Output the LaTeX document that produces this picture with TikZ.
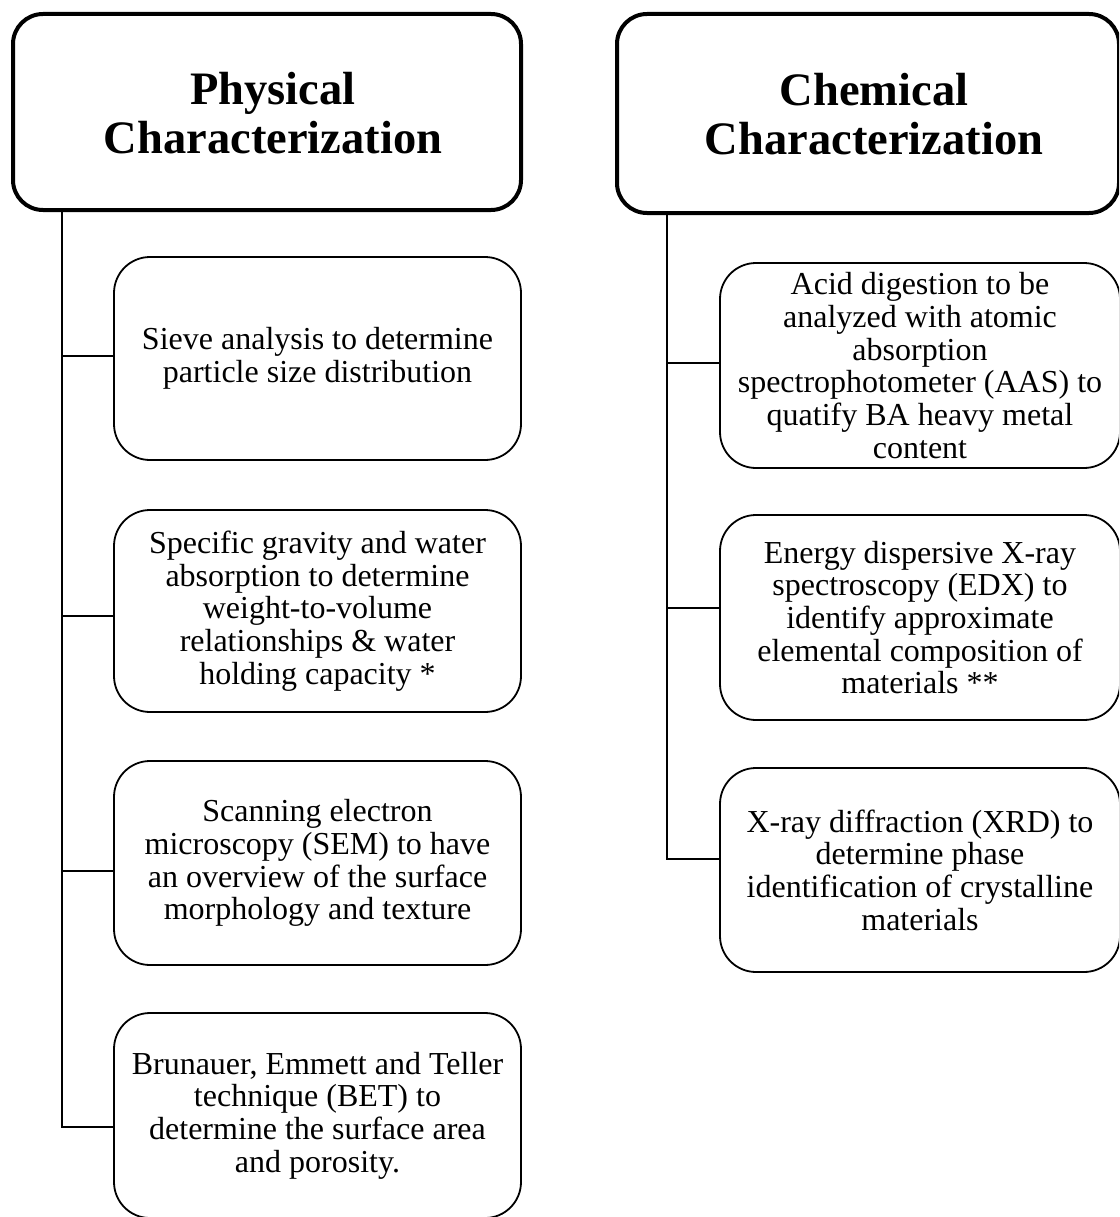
\documentclass[tikz,border=0pt]{standalone}
\usepackage{fontspec}
\setmainfont{Liberation Serif}
\begin{document}
\begin{tikzpicture}[x=1pt,y=-1pt,
  hdr/.style={draw=black, line width=4pt, rounded corners=30pt, fill=white,
    inner sep=0pt},
  hdrtext/.style={inner sep=0pt, align=center, font=\bfseries\fontsize{46.5}{49}\selectfont, xshift=6pt, yshift=-1pt},
  itembox/.style={draw=black, line width=1.8pt, rounded corners=36pt, fill=white,
    inner sep=0pt, align=center, font=\fontsize{32}{32.7}\selectfont},
  lconn/.style={draw=black, line width=1.3pt},
  rconn/.style={draw=black, line width=2pt}]
\useasboundingbox (0,0) rectangle (1119,1217);
\clip (0,0) rectangle (1119,1217);

% headers
\node[hdr, minimum width=508pt, minimum height=196pt,
  label={[hdrtext]center:Physical\\Characterization}] (hL) at (267,112) {};
\node[hdr, minimum width=502pt, minimum height=199pt,
  label={[hdrtext]center:Chemical\\Characterization}] (hR) at (868,113.5) {};

% left items
\node[itembox, minimum width=407pt, minimum height=203pt] (sieve) at (317.5,358.5) {Sieve analysis to determine\\particle size distribution};
\node[itembox, minimum width=407pt, minimum height=202pt] (sg) at (317.5,611) {Specific gravity and water\\absorption to determine\\weight-to-volume\\relationships \& water\\holding capacity *};
\node[itembox, minimum width=407pt, minimum height=204pt] (sem) at (317.5,863) {Scanning electron\\microscopy (SEM) to have\\an overview of the surface\\morphology and texture};
\node[itembox, minimum width=407pt, minimum height=205pt] (bet) at (317.5,1115.5) {Brunauer, Emmett and Teller\\technique (BET) to\\determine the surface area\\and porosity.};

% right items
\node[itembox, minimum width=400pt, minimum height=205pt] (aas) at (920,365.5) {Acid digestion to be\\analyzed with atomic\\absorption\\spectrophotometer (AAS) to\\quatify BA heavy metal\\content};
\node[itembox, minimum width=400pt, minimum height=205pt] (edx) at (920,617.5) {Energy dispersive X-ray\\spectroscopy (EDX) to\\identify approximate\\elemental composition of\\materials **};
\node[itembox, minimum width=400pt, minimum height=204pt] (xrd) at (920,870) {X-ray diffraction (XRD) to\\determine phase\\identification of crystalline\\materials};

% left connectors
\coordinate (ltop) at ([xshift=51pt]hL.south west);
\coordinate (c1) at ([yshift=2.5pt]sieve.west);
\coordinate (c2) at ([yshift=-5pt]sg.west);
\coordinate (c3) at ([yshift=-8pt]sem.west);
\coordinate (c4) at ([yshift=-11.5pt]bet.west);
\draw[lconn] (ltop) |- (c4);
\draw[lconn] (c1) -- (c1 -| ltop);
\draw[lconn] (c2) -- (c2 -| ltop);
\draw[lconn] (c3) -- (c3 -| ltop);

% right connectors
\coordinate (rtop) at ([xshift=52pt]hR.south west);
\coordinate (d1) at ([yshift=2.5pt]aas.west);
\coordinate (d2) at ([yshift=9.5pt]edx.west);
\coordinate (d3) at ([yshift=11pt]xrd.west);
\draw[rconn] (rtop) |- (d3);
\draw[rconn] (d1) -- (d1 -| rtop);
\draw[rconn] (d2) -- (d2 -| rtop);
\end{tikzpicture}
\end{document}
